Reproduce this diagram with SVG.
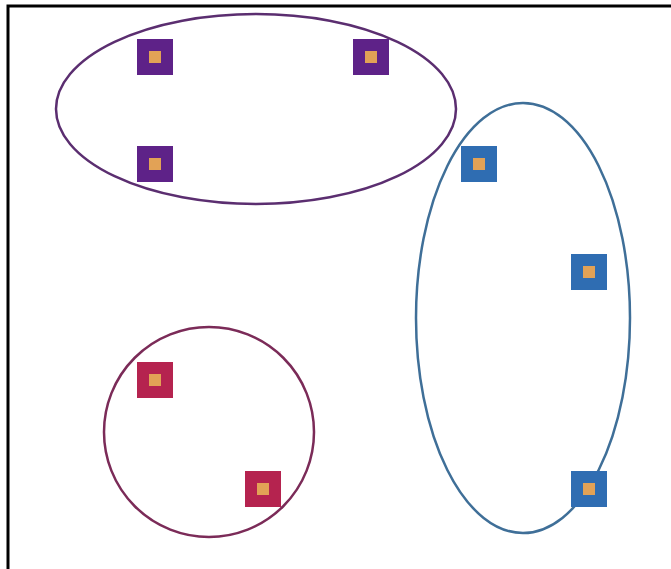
<svg xmlns="http://www.w3.org/2000/svg" width="671" height="569" viewBox="0 0 671 569">
<style>
.g{fill:none;stroke-width:2.5}
.in{fill:#e2a256}
.p{fill:#5e2288}
.b{fill:#2f6db2}
.r{fill:#b5234f}
</style>
<rect width="671" height="569" fill="#fff"/>
<path d="M8 569 V6 H671" fill="none" stroke="#000" stroke-width="3"/>
<g id="connectors">
<ellipse id="groupPurple" class="g" cx="256" cy="109" rx="200" ry="95" stroke="#5b2e70"/>
<ellipse id="groupBlue" class="g" cx="523" cy="318" rx="107" ry="215" stroke="#3f6f98"/>
<circle id="groupRed" class="g" cx="209" cy="432" r="105" stroke="#7b2b58"/>
</g>
<g id="p1"><rect class="p" x="137" y="39" width="36" height="36"/><rect class="in" x="149" y="51" width="12" height="12"/></g>
<g id="p2"><rect class="p" x="353" y="39" width="36" height="36"/><rect class="in" x="365" y="51" width="12" height="12"/></g>
<g id="p3"><rect class="p" x="137" y="146" width="36" height="36"/><rect class="in" x="149" y="158" width="12" height="12"/></g>
<g id="b1"><rect class="b" x="461" y="146" width="36" height="36"/><rect class="in" x="473" y="158" width="12" height="12"/></g>
<g id="b2"><rect class="b" x="571" y="254" width="36" height="36"/><rect class="in" x="583" y="266" width="12" height="12"/></g>
<g id="b3"><rect class="b" x="571" y="471" width="36" height="36"/><rect class="in" x="583" y="483" width="12" height="12"/></g>
<g id="r1"><rect class="r" x="137" y="362" width="36" height="36"/><rect class="in" x="149" y="374" width="12" height="12"/></g>
<g id="r2"><rect class="r" x="245" y="471" width="36" height="36"/><rect class="in" x="257" y="483" width="12" height="12"/></g>
</svg>
